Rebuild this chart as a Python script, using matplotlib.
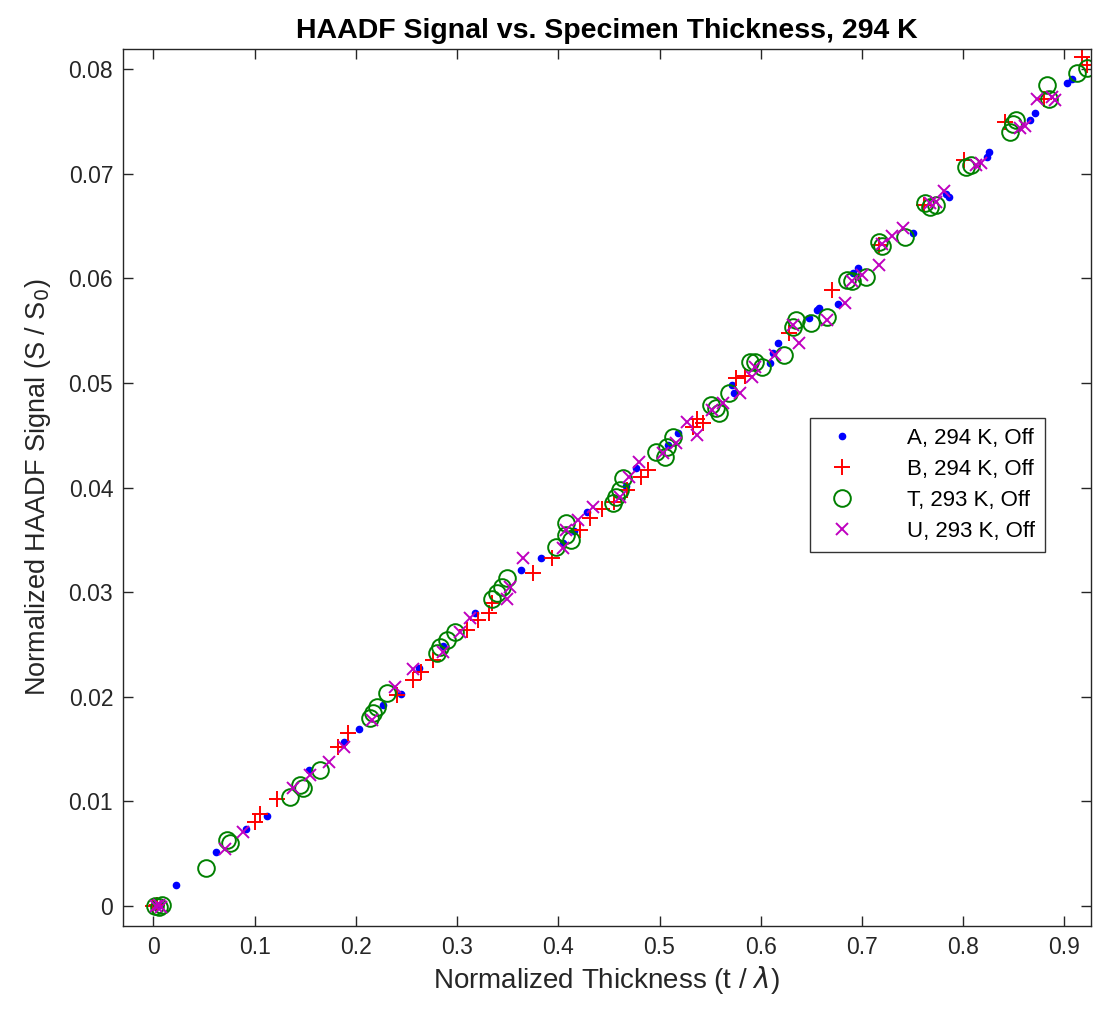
import matplotlib
matplotlib.use("Agg")
import matplotlib.pyplot as plt

plt.rcParams['font.family'] = ['Liberation Sans', 'DejaVu Sans']

# series A, 294 K (blue dots)
a_x = [0.004, 0.007, 0.022, 0.062, 0.092, 0.112, 0.154, 0.188, 0.203, 0.227, 0.245,
       0.262, 0.286, 0.318, 0.363, 0.383, 0.405, 0.416, 0.428, 0.467, 0.477, 0.508,
       0.518, 0.572, 0.574, 0.609, 0.612, 0.617, 0.648, 0.656, 0.658, 0.676, 0.691,
       0.696, 0.750, 0.783, 0.786, 0.823, 0.825, 0.866, 0.871, 0.902, 0.907]
a_y = [0.0, 0.0001, 0.0020, 0.0052, 0.0074, 0.0086, 0.0130, 0.0157, 0.0169, 0.0192, 0.0203,
       0.0228, 0.0249, 0.0280, 0.0321, 0.0333, 0.0347, 0.0358, 0.0377, 0.0401, 0.0419, 0.0441,
       0.0452, 0.0498, 0.0490, 0.0519, 0.0529, 0.0538, 0.0562, 0.0570, 0.0572, 0.0575, 0.0605,
       0.0610, 0.0643, 0.0680, 0.0678, 0.0716, 0.0721, 0.0751, 0.0758, 0.0787, 0.0790]

# series B, 294 K (red plus)
b_x = [0.0, 0.004, 0.100, 0.105, 0.122, 0.182, 0.192, 0.241, 0.256, 0.264, 0.276,
       0.310, 0.321, 0.332, 0.335, 0.375, 0.394, 0.421, 0.431, 0.443, 0.455, 0.468,
       0.482, 0.489, 0.533, 0.537, 0.543, 0.576, 0.584, 0.628, 0.670, 0.717, 0.761,
       0.801, 0.841, 0.880, 0.917, 0.922]
b_y = [0.0, 0.0001, 0.0080, 0.0088, 0.0102, 0.0152, 0.0165, 0.0202, 0.0216, 0.0224, 0.0235,
       0.0264, 0.0273, 0.0280, 0.0290, 0.0318, 0.0333, 0.0359, 0.0371, 0.0379, 0.0386, 0.0398,
       0.0410, 0.0417, 0.0458, 0.0465, 0.0462, 0.0505, 0.0507, 0.0548, 0.0589, 0.0632, 0.0670,
       0.0713, 0.0749, 0.0771, 0.0811, 0.0804]

# series T, 293 K (green circles)
t_x = [0.002, 0.006, 0.009, 0.052, 0.073, 0.076, 0.135, 0.145, 0.148, 0.165, 0.214,
       0.217, 0.221, 0.231, 0.280, 0.283, 0.290, 0.298, 0.335, 0.339, 0.344, 0.349,
       0.398, 0.408, 0.408, 0.413, 0.454, 0.457, 0.461, 0.464, 0.497, 0.505, 0.507,
       0.513, 0.551, 0.556, 0.559, 0.569, 0.589, 0.594, 0.601, 0.623, 0.632, 0.635,
       0.650, 0.665, 0.685, 0.690, 0.704, 0.717, 0.720, 0.742, 0.762, 0.767, 0.773,
       0.803, 0.808, 0.846, 0.849, 0.852, 0.883, 0.885, 0.912, 0.922]
t_y = [0.0, -0.0001, 0.0001, 0.0036, 0.0063, 0.0060, 0.0104, 0.0116, 0.0113, 0.0130, 0.0180,
       0.0185, 0.0190, 0.0204, 0.0242, 0.0248, 0.0254, 0.0262, 0.0293, 0.0299, 0.0305, 0.0314,
       0.0343, 0.0355, 0.0366, 0.0350, 0.0385, 0.0391, 0.0398, 0.0409, 0.0434, 0.0429, 0.0439,
       0.0448, 0.0479, 0.0476, 0.0471, 0.0490, 0.0520, 0.0520, 0.0515, 0.0527, 0.0553, 0.0560,
       0.0557, 0.0563, 0.0598, 0.0597, 0.0601, 0.0635, 0.0631, 0.0639, 0.0672, 0.0668, 0.0670,
       0.0706, 0.0708, 0.0740, 0.0747, 0.0751, 0.0785, 0.0771, 0.0796, 0.0801]

# series U, 293 K (magenta x)
u_x = [0.003, 0.006, 0.008, 0.071, 0.089, 0.138, 0.155, 0.174, 0.188, 0.216, 0.239,
       0.256, 0.286, 0.303, 0.313, 0.349, 0.352, 0.365, 0.405, 0.408, 0.419, 0.434,
       0.461, 0.470, 0.480, 0.503, 0.516, 0.527, 0.537, 0.552, 0.563, 0.579, 0.591,
       0.594, 0.614, 0.632, 0.638, 0.665, 0.683, 0.690, 0.700, 0.717, 0.720, 0.730,
       0.740, 0.767, 0.773, 0.781, 0.813, 0.818, 0.856, 0.861, 0.873, 0.888, 0.891]
u_y = [0.0, 0.0001, -0.0001, 0.0055, 0.0071, 0.0113, 0.0125, 0.0138, 0.0152, 0.0178, 0.0209,
       0.0227, 0.0243, 0.0262, 0.0275, 0.0293, 0.0305, 0.0333, 0.0342, 0.0359, 0.0369, 0.0381,
       0.0391, 0.0410, 0.0424, 0.0433, 0.0443, 0.0463, 0.0450, 0.0474, 0.0481, 0.0490, 0.0506,
       0.0515, 0.0527, 0.0555, 0.0538, 0.0560, 0.0576, 0.0597, 0.0603, 0.0613, 0.0633, 0.0640,
       0.0648, 0.0672, 0.0673, 0.0683, 0.0708, 0.0710, 0.0744, 0.0745, 0.0771, 0.0773, 0.0770]

labels = ['A, 294 K, Off', 'B, 294 K, Off', 'T, 293 K, Off', 'U, 293 K, Off']
xticks = [0, 0.1, 0.2, 0.3, 0.4, 0.5, 0.6, 0.7, 0.8, 0.9]
yticks = [0, 0.01, 0.02, 0.03, 0.04, 0.05, 0.06, 0.07, 0.08]

axcol = '#262626'
fig = plt.figure(figsize=(10.93, 10.13), dpi=100)
ax = fig.add_axes([0.1125, 0.0859, 0.8855, 0.8657])

ax.plot(a_x, a_y, ls='none', marker='.', color='#0000ff', ms=9, label=labels[0])
ax.plot(b_x, b_y, ls='none', marker='+', color='#ff0000', ms=12, mew=1.4, label=labels[1])
ax.plot(t_x, t_y, ls='none', marker='o', mfc='none', mec='#008000', ms=12, mew=1.4, label=labels[2])
ax.plot(u_x, u_y, ls='none', marker='x', color='#bf00bf', ms=8, mew=1.4, label=labels[3])

ax.set_xlim(-0.03, 0.926)
ax.set_ylim(-0.0019, 0.0819)
ax.set_xticks(xticks)
ax.set_xticklabels(['0' if v == 0 else f'{v:g}' for v in xticks])
ax.set_yticks(yticks)
ax.set_yticklabels(['0' if v == 0 else f'{v:.2f}' for v in yticks])
ax.tick_params(direction='in', length=7, width=1, colors=axcol, labelsize=16.5,
               top=True, right=True, pad=7)
for s in ax.spines.values():
    s.set_color(axcol)
    s.set_linewidth(1)

ax.set_xlabel('Normalized Thickness (t / $\\lambda$)', fontsize=20, color=axcol, labelpad=4)
ax.set_ylabel('Normalized HAADF Signal (S / S$_0$)', fontsize=19.5, color=axcol, labelpad=11)
ax.set_title('HAADF Signal vs. Specimen Thickness, 294 K', fontsize=20.5, fontweight='bold',
             color='black', pad=8)

leg = ax.legend(loc='upper left', bbox_to_anchor=(0.7097, 0.5793), fontsize=16,
                frameon=True, fancybox=False, edgecolor='black', borderpad=0.45,
                handlelength=2.0, handletextpad=1.9, labelspacing=0.45, borderaxespad=0)
leg.get_frame().set_linewidth(1)

fig.savefig('out.png', dpi=100)
